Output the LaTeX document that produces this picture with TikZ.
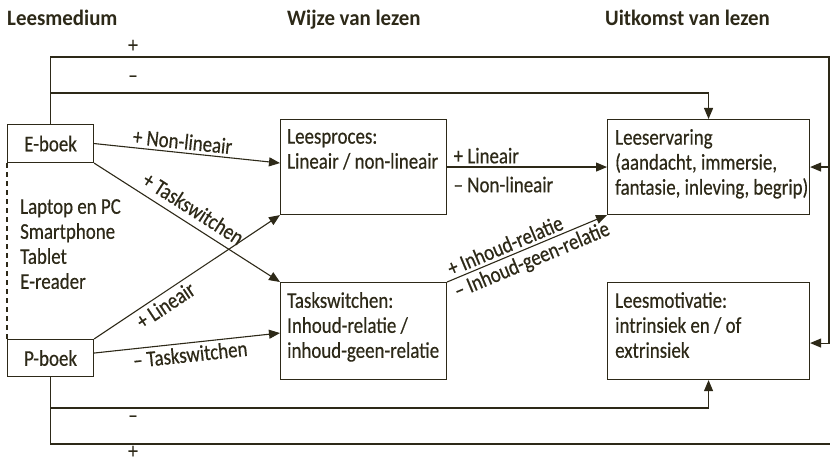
\documentclass[tikz,border=0pt]{standalone}
\usepackage{fontspec}
\setmainfont[FakeStretch=0.84,UprightFeatures={FakeBold=0.5}]{Carlito}
\newfontfamily\kopfont[FakeStretch=0.95]{Carlito}
\usetikzlibrary{calc,arrows.meta}
\definecolor{ink}{RGB}{45,41,24}
\tikzset{
	box/.style={draw=ink, line width=1.1pt, inner sep=0pt, anchor=north west},
	boxtext/.style={anchor=north west, align=left, inner sep=0pt},
	lijn/.style={draw=ink, line width=1.1pt},
	pijl/.style={lijn, -{Triangle[length=11pt,width=9pt]}},
	lbl/.style={inner sep=3pt, text=ink},
	teken/.style={inner sep=0pt, text=ink},
	kop/.style={font=\kopfont\bfseries\fontsize{22}{26}\selectfont, anchor=base west, inner sep=0pt},
}

\begin{document}
\begin{tikzpicture}[x=1pt,y=-1pt,font=\fontsize{22.5}{25}\selectfont,text=ink]
	\useasboundingbox (0,0) rectangle (830,462);
	
	% kolomkoppen
	\node[kop] (hmedium) at (7,26) {Leesmedium};
	\node[kop] (hwijze) at (287,26) {Wijze van lezen};
	\node[kop] (huitkomst) at (605,26) {Uitkomst van lezen};
	
	% blokken
	\node[box, minimum width=86pt, minimum height=38pt] (eboek) at (7,124) {E-boek};
	\node[box, minimum width=86pt, minimum height=37pt] (pboek) at (7,339) {P-boek};
	\node[box, minimum width=166pt, minimum height=95pt] (proces) at (280,119) {};
	\node[box, minimum width=166pt, minimum height=97pt] (task) at (280,282) {};
	\node[box, minimum width=202pt, minimum height=95pt] (ervaring) at (607,119) {};
	\node[box, minimum width=202pt, minimum height=97pt] (motivatie) at (607,282) {};
	
	\node[boxtext] (procesT) at ($(proces.north west)+(7,10)$) {Leesproces:\\Lineair / non-lineair};
	\node[boxtext] (taskT) at ($(task.north west)+(7,10)$) {Taskswitchen:\\Inhoud-relatie /\\inhoud-geen-relatie};
	\node[boxtext] (ervaringT) at ($(ervaring.north west)+(8,10)$) {Leeservaring\\(aandacht, immersie,\\fantasie, inleving, begrip)};
	\node[boxtext] (motivatieT) at ($(motivatie.north west)+(8,10)$) {Leesmotivatie:\\intrinsiek en / of\\extrinsiek};
	\node[boxtext] (apparaten) at (20,199) {Laptop en PC\\Smartphone\\Tablet\\E-reader};
	
	\draw[lijn, dash pattern=on 5pt off 4pt] (eboek.south west) -- (pboek.north west);
	
	% terugkoppeling boven en onder
	\coordinate (rtop) at (829,57);
	\coordinate (rbot) at (830,444);
	\coordinate (ymin) at (0,93);
	\coordinate (yminb) at (0,408);
	\draw[pijl] (eboek.north) |- (rtop) |- ([yshift=-12pt]motivatie.east);
	\draw[pijl] (rtop |- ervaring.east) -- (ervaring.east);
	\draw[pijl] (eboek.north |- ymin) -| (ervaring.north);
	\draw[pijl] (pboek.south |- yminb) -| (motivatie.south);
	\draw[lijn] (pboek.south) |- (rbot);
	
	\node[teken] (plusE) at (133,46) {+};
	\node[teken] (minE) at (133,79) {–};
	\node[teken] (minP) at (133,419) {–};
	\node[teken] (plusP) at (133,452) {+};
	
	% pijlen naar wijze van lezen
	\draw[pijl] (eboek.east) -- node[lbl, sloped, above, pos=0.47] (lNon) {+ Non-lineair} ([yshift=4pt]proces.west);
	\draw[pijl] (eboek.south east) -- node[lbl, sloped, above, inner sep=7pt, pos=0.49] (lTaskE) {+ Taskswitchen} (task.north west);
	\draw[pijl] (pboek.north east) -- node[lbl, sloped, below, pos=0.35] (lLinP) {+ Lineair} (proces.south west);
	\draw[pijl] ([yshift=5pt]pboek.east) -- node[lbl, sloped, below, pos=0.51] (lTaskP) {– Taskswitchen} ([yshift=-2pt]task.west);
	
	% pijlen naar uitkomst
	\draw[pijl] (proces.east) -- node[lbl, pos=0, anchor=south west, xshift=3pt] (lLin) {+ Lineair}
		node[lbl, pos=0, anchor=north west, xshift=3pt, yshift=-6pt] (lNonMin) {– Non-lineair} (ervaring.west);
	\draw[pijl] (task.north east) -- node[lbl, sloped, above, pos=0.39] (lRel) {+ Inhoud-relatie}
		node[lbl, sloped, below, pos=0.5] (lGeen) {– Inhoud-geen-relatie} (ervaring.south west);
\end{tikzpicture}
\end{document}
